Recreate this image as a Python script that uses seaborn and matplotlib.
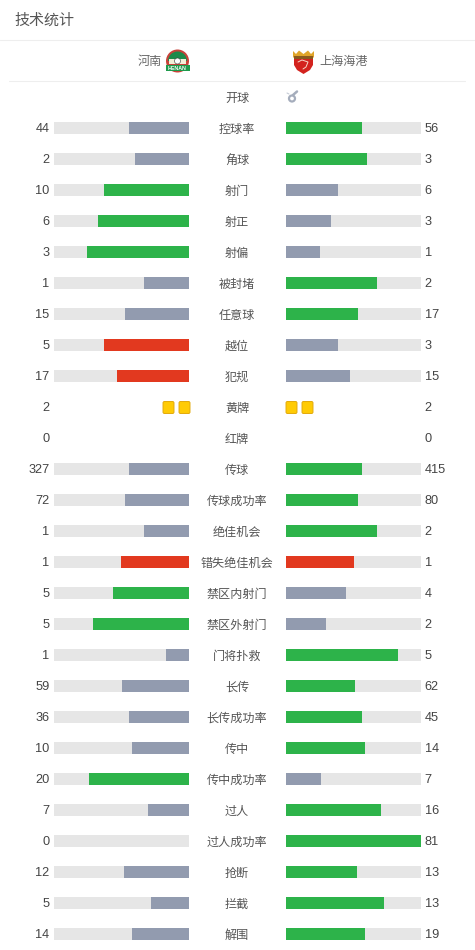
import matplotlib
matplotlib.use("Agg")
import matplotlib.pyplot as plt
from matplotlib.patches import Circle, Polygon, Rectangle, Wedge
from matplotlib.path import Path
import pandas as pd
import seaborn as sns

stats = ["开球", "控球率", "角球", "射门", "射正", "射偏", "被封堵", "任意球", "越位", "犯规",
         "黄牌", "红牌", "传球", "传球成功率", "绝佳机会", "错失绝佳机会", "禁区内射门", "禁区外射门",
         "门将扑救", "长传", "长传成功率", "传中", "传中成功率", "过人", "过人成功率", "抢断", "拦截", "解围"]
left_values = ["", "44", "2", "10", "6", "3", "1", "15", "5", "17",
               "2", "0", "327", "72", "1", "1", "5", "5",
               "1", "59", "36", "10", "20", "7", "0", "12", "5", "14"]
right_values = ["", "56", "3", "6", "3", "1", "2", "17", "3", "15",
                "2", "0", "415", "80", "2", "1", "4", "2",
                "5", "62", "45", "14", "7", "16", "81", "13", "13", "19"]
# bar share of the track, percent
left_share = [None, 44.4, 40.0, 63.0, 67.4, 75.6, 33.3, 47.4, 63.0, 53.3,
              None, None, 44.4, 47.4, 33.3, 50.4, 56.3, 71.1,
              17.0, 49.6, 44.4, 42.2, 74.1, 30.4, 0.0, 48.1, 28.1, 42.2]
right_share = [None, 56.3, 60.0, 38.5, 33.3, 25.2, 67.4, 53.3, 38.5, 47.4,
               None, None, 56.3, 53.3, 67.4, 50.4, 44.4, 29.6,
               83.0, 51.1, 56.3, 58.5, 25.9, 70.4, 100.0, 52.6, 72.6, 58.5]
left_state = ["grey", "grey", "grey", "green", "green", "green", "grey", "grey", "red", "red",
              "grey", "grey", "grey", "grey", "grey", "red", "green", "green",
              "grey", "grey", "grey", "grey", "green", "grey", "grey", "grey", "grey", "grey"]
right_state = ["grey", "green", "green", "grey", "grey", "grey", "green", "green", "grey", "grey",
               "grey", "grey", "green", "green", "green", "red", "grey", "grey",
               "green", "green", "green", "green", "grey", "green", "green", "green", "green", "green"]

palette = {"green": "#2DB34A", "grey": "#929BAF", "red": "#E2391F"}
TRACK = "#E6E6E6"
TEXT = "#444444"
CARD_SHARE = [4.07, 15.2]

sns.set_style("white")
plt.rcParams["font.family"] = ["Liberation Sans", "Noto Sans CJK SC", "DejaVu Sans"]

df = pd.DataFrame({"stat": stats, "left": left_share, "right": right_share,
                   "left_state": left_state, "right_state": right_state})
df["track"] = [None if s is None else 100 for s in left_share]

fig = plt.figure(figsize=(4.75, 9.5), dpi=100, facecolor="white")
px = lambda x0, y0, x1, y1: [x0 / 475, 1 - y1 / 950, (x1 - x0) / 475, (y1 - y0) / 950]
ax_l = fig.add_axes(px(54, 81.5, 189, 949.5))
ax_r = fig.add_axes(px(286, 81.5, 421, 949.5))

card_path = Path([(-4.6, -6), (4.6, -6), (5.5, -5), (5.5, 5), (4.6, 6), (-4.6, 6), (-5.5, 5), (-5.5, -5), (-4.6, -6)], closed=True)

for ax, col, state, values in [(ax_l, "left", "left_state", left_values),
                               (ax_r, "right", "right_state", right_values)]:
    sns.barplot(data=df, x="track", y="stat", order=stats, color=TRACK, saturation=1,
                width=12 / 31, errorbar=None, linewidth=0, ax=ax)
    sns.barplot(data=df, x=col, y="stat", order=stats, hue=state, palette=palette, dodge=False,
                saturation=1, width=12 / 31, errorbar=None, legend=False, linewidth=0, ax=ax)
    n_cards = int(values[stats.index("黄牌")])
    sns.scatterplot(x=CARD_SHARE[:n_cards], y=["黄牌"] * n_cards, marker=card_path, s=74,
                    color="#FFCB05", edgecolor="#E2A90B", linewidth=0.7, clip_on=False, ax=ax, zorder=3)
    ax.set_ylim(27.5, -0.5)
    ax.set_xlabel("")
    ax.set_ylabel("")
    ax.set_xticks([])
    sns.despine(ax=ax, left=True, bottom=True)
    ax.patch.set_alpha(0)
    for i, v in enumerate(values):
        if ax is ax_l:
            ax.annotate(v, (100, i), xytext=(-3.3, 0.3), textcoords="offset points",
                        ha="right", va="center_baseline", fontsize=9.2, color=TEXT)
        else:
            ax.annotate(v, (100, i), xytext=(2.6, 0.3), textcoords="offset points",
                        ha="left", va="center_baseline", fontsize=9.2, color=TEXT)

ax_l.set_xlim(100, 0)
ax_l.yaxis.tick_right()
ax_l.tick_params(axis="y", length=0, pad=34.6, labelsize=8.7, labelcolor="#555555")
for t in ax_l.get_yticklabels():
    t.set_ha("center")
ax_r.set_xlim(0, 100)
ax_r.set_yticks([])

# header, separators and badges, in pixels
ov = fig.add_axes([0, 0, 1, 1], zorder=-1)
ov.set_xlim(0, 475)
ov.set_ylim(950, 0)
ov.axis("off")
ov.text(14.5, 20.5, "技术统计", fontsize=10.8, color="#555555", ha="left", va="center")
ov.plot([0, 475], [40, 40], color="#EEEEEE", lw=0.8)
ov.plot([9, 465], [81, 81], color="#EEEEEE", lw=0.8)
ov.text(162, 61.5, "河南", fontsize=8.7, color="#666666", ha="right", va="center")
ov.text(319, 61.5, "上海海港", fontsize=8.7, color="#666666", ha="left", va="center")

# Henan badge
ov.add_patch(Circle((177.5, 61), 11.5, fc="#C8423A", ec="none"))
ov.add_patch(Wedge((177.5, 61), 9.5, 180, 360, fc="#1E8A4A", ec="none"))
ov.add_patch(Rectangle((169, 59), 17, 5, fc="#F3EFD8", ec="none"))
ov.add_patch(Circle((177.5, 61), 3, fc="white", ec="#333333", lw=0.4))
ov.add_patch(Rectangle((165.5, 65), 24, 6, fc="#1F9A4C", ec="none"))
ov.text(177.5, 68.1, "HENAN", fontsize=3.8, fontweight="bold", color="white", ha="center", va="center")

# Shanghai badge
ov.add_patch(Polygon([(294, 58), (313, 58), (313, 65), (310, 70), (303.5, 74), (297, 70), (294, 65)],
                     fc="#D3231E", ec="none"))
ov.add_patch(Polygon([(293, 57.5), (293, 51), (296, 54), (299, 50.5), (303.5, 54), (308, 50.5), (311, 54), (314, 51), (314, 57.5)],
                     fc="#E0A52A", ec="none"))
ov.add_patch(Rectangle((294, 55.5), 19, 3, fc="#8A5A1E", ec="none"))
ov.plot([298, 302, 308, 306, 303], [62, 60, 62, 67, 69], color="#F6D7C8", lw=0.7)

# whistle for kick-off
ov.add_patch(Circle((292, 98.5), 3, fc="none", ec="#A5ADBC", lw=1.6))
ov.plot([293, 297], [95, 91.5], color="#A5ADBC", lw=1.8)
ov.plot([287, 289], [93, 94], color="#C5CBD6", lw=0.8)

fig.savefig("out.png", dpi=100)
